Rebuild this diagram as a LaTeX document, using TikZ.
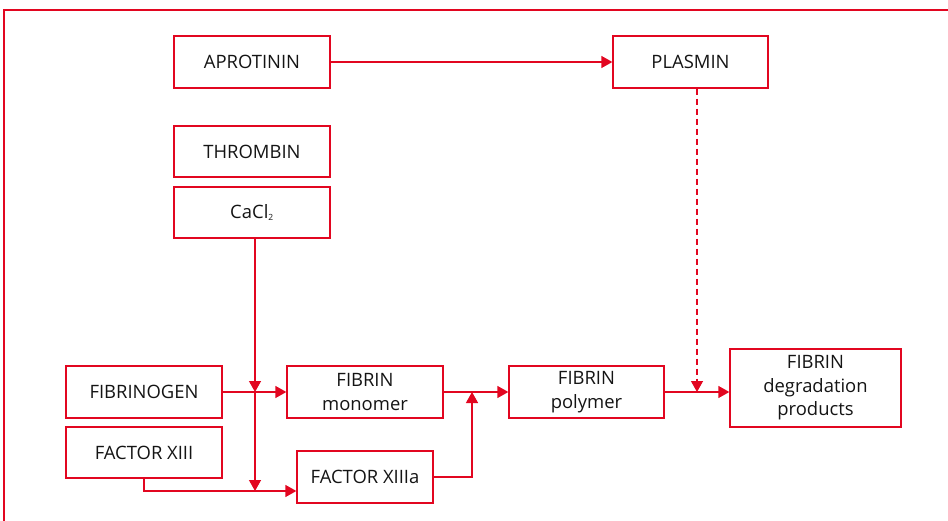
\documentclass[tikz,border=0pt]{standalone}
\usepackage{fontspec}
\setmainfont{Open Sans}
\usetikzlibrary{arrows.meta}
\definecolor{cred}{RGB}{226,6,32}
\definecolor{ctext}{RGB}{20,20,20}
\begin{document}
\begin{tikzpicture}[x=1bp,y=-1bp,
  box/.style={draw=cred,line width=1.3bp,inner sep=0pt,align=center,text=ctext,
    font=\fontsize{18.5}{23.5}\selectfont,minimum width=156bp,minimum height=51bp},
  conn/.style={draw=cred,line width=1.3bp},
  arr/.style={conn,-{Triangle[length=11bp,width=12bp]}},
  dashconn/.style={arr,dash pattern=on 6bp off 4bp}]
\useasboundingbox (0,0) rectangle (948,521);
\draw[conn] (4,530) -- (4,10) -- (960,10);
\node[box,minimum height=52bp] (aprot) at (252,62) {APROTININ};
\node[box,minimum width=155bp,minimum height=52bp] (plasmin) at (690.5,62) {PLASMIN};
\node[box] (thromb) at (252,151.5) {THROMBIN};
\node[box] (cacl) at (252,212.5) {CaCl\textsubscript{\fontsize{8.5}{9}\selectfont 2}};
\node[box,minimum height=52bp] (fibgen) at (144,392) {FIBRINOGEN};
\node[box] (f13) at (144,452.5) {FACTOR XIII};
\node[box,minimum height=52bp] (mono) at (365,392) {FIBRIN\\monomer};
\node[box,minimum width=136bp,minimum height=52bp] (f13a) at (365,477) {FACTOR XIIIa};
\node[box,minimum width=155bp,minimum height=52bp] (poly) at (586.5,392) {FIBRIN\\polymer};
\node[box,minimum width=171bp,minimum height=78bp] (deg) at (815.5,388) {FIBRIN\\degradation\\products};
\coordinate (c1) at (255,392);
\coordinate (c2) at (255,491);
\coordinate (c3) at (472,392);
\coordinate (c4) at (697,392);
\draw[arr] (aprot.east) -- (plasmin.west);
\draw[arr] (cacl.south -| c1) -- (c1);
\draw[arr] (c1) -- (c2);
\draw[arr] (fibgen.east) -- (mono.west);
\draw[arr] (f13.south) |- (f13a.west |- c2);
\draw[arr] (mono.east) -- (poly.west);
\draw[arr] (f13a.east) -| (c3);
\draw[arr] (poly.east) -- (deg.west |- poly.east);
\draw[dashconn] (plasmin.south -| c4) -- (c4);
\end{tikzpicture}
\end{document}
